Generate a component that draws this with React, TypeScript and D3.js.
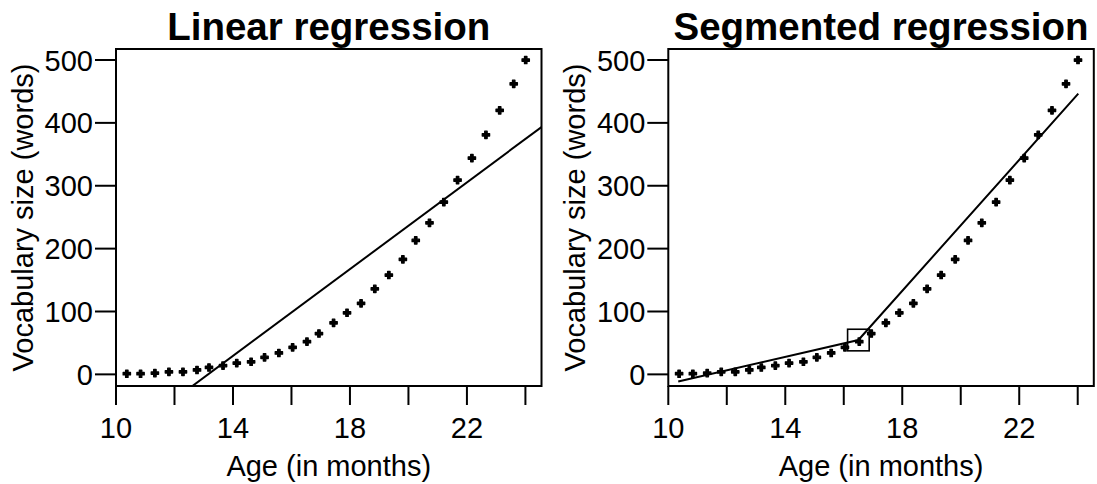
import React from "react";
import * as d3 from "d3";

// Data
const ages = [10.37, 10.84, 11.33, 11.81, 12.29, 12.77, 13.18, 13.66, 14.13, 14.62,
  15.08, 15.57, 16.04, 16.53, 16.94, 17.44, 17.9, 18.38, 18.85, 19.33,
  19.81, 20.25, 20.72, 21.21, 21.68, 22.17, 22.65, 23.12, 23.6, 24.01];
const vocab = [1, 1, 2, 4, 4, 7, 11, 14, 18, 20,
  27, 34, 43, 52, 65, 82, 98, 113, 136, 158,
  183, 213, 241, 274, 309, 344, 381, 420, 462, 500];

// Linear regression fit (intercept, slope)
const linearFit = { intercept: -453.8, slope: 34.51 };
// Segmented regression fit (nodes)
const segAges = [10.34, 16.5, 24.02];
const segValues = [-11.5, 54.6, 446.6];
const breakAge = 16.5;
const breakValue = 54.6;

const xTicks = [10, 12, 14, 16, 18, 20, 22, 24];
const xTickLabels = ["10", "", "14", "", "18", "", "22", ""];
const yTicks = [0, 100, 200, 300, 400, 500];

const titles = ["Linear regression", "Segmented regression"];
const xLabel = "Age (in months)";
const yLabel = "Vocabulary size (words)";

const FONT = "'Liberation Sans', Arial, Helvetica, sans-serif";
const W = 1097, H = 484;
const panelLefts = [116, 668.3];
const plotW = 425.5;
const top = 49, bottom = 386;
const tickLen = 21;

function Panel({ idx }: { idx: number }) {
  const x0 = panelLefts[idx];
  const x = d3.scaleLinear().domain([10, 24.55]).range([x0, x0 + plotW]);
  const y = d3.scaleLinear().domain([-18.5, 517.5]).range([bottom, top]);
  const clipId = `clip${idx}`;
  const cross = d3.symbol().type(d3.symbolCross).size(30)() as string;
  let linePath = "";
  if (idx === 0) {
    const xs = x.domain();
    linePath = d3.line<number>()
      .x((a) => x(a))
      .y((a) => y(linearFit.intercept + linearFit.slope * a))(xs) as string;
  } else {
    linePath = d3.line<number>()
      .x((a) => x(a))
      .y((_, i) => y(segValues[i]))(segAges) as string;
  }
  const cx = (x0 + x0 + plotW) / 2;
  const cy = (top + bottom) / 2;
  return (
    <g>
      <defs>
        <clipPath id={clipId}>
          <rect x={x0} y={top} width={plotW} height={bottom - top} />
        </clipPath>
      </defs>
      <text x={cx} y={39.5} textAnchor="middle" fontFamily={FONT} fontWeight="bold" fontSize={38.5} fill="#000">
        {titles[idx]}
      </text>
      {/* points */}
      {ages.map((a, i) => (
        <path key={i} d={cross} transform={`translate(${x(a)},${y(vocab[i])})`}
          fill="#000" stroke="#000" strokeWidth={1.3} strokeLinejoin="round" />
      ))}
      <path d={linePath} fill="none" stroke="#000" strokeWidth={2} clipPath={`url(#${clipId})`} />
      {idx === 1 && (
        <rect x={x(breakAge) - 10.8} y={y(breakValue) - 10.8} width={21.6} height={21.6}
          fill="none" stroke="#000" strokeWidth={1.6} />
      )}
      <rect x={x0} y={top} width={plotW} height={bottom - top} fill="none" stroke="#000" strokeWidth={2} />
      {/* x axis */}
      {xTicks.map((t, i) => (
        <g key={t}>
          <line x1={x(t)} x2={x(t)} y1={bottom} y2={bottom + tickLen - 2} stroke="#000" strokeWidth={2} />
          {xTickLabels[i] && (
            <text x={x(t)} y={438} textAnchor="middle" fontFamily={FONT} fontSize={29} fill="#000">
              {xTickLabels[i]}
            </text>
          )}
        </g>
      ))}
      <text x={cx} y={476} textAnchor="middle" fontFamily={FONT} fontSize={29} fill="#000">{xLabel}</text>
      {/* y axis */}
      {yTicks.map((t) => (
        <g key={t}>
          <line x1={x0 - tickLen} x2={x0} y1={y(t)} y2={y(t)} stroke="#000" strokeWidth={2} />
          <text x={x0 - tickLen - 2} y={y(t) + 10.5} textAnchor="end" fontFamily={FONT} fontSize={29} fill="#000">
            {t}
          </text>
        </g>
      ))}
      <text transform={`translate(${x0 - 83},${cy}) rotate(-90)`} textAnchor="middle"
        fontFamily={FONT} fontSize={29} fill="#000">{yLabel}</text>
    </g>
  );
}

export default function App() {
  return (
    <svg width={W} height={H} style={{ position: "absolute", left: 0, top: 0, background: "#fff" }}>
      <rect x={0} y={0} width={W} height={H} fill="#fff" />
      <Panel idx={0} />
      <Panel idx={1} />
    </svg>
  );
}
